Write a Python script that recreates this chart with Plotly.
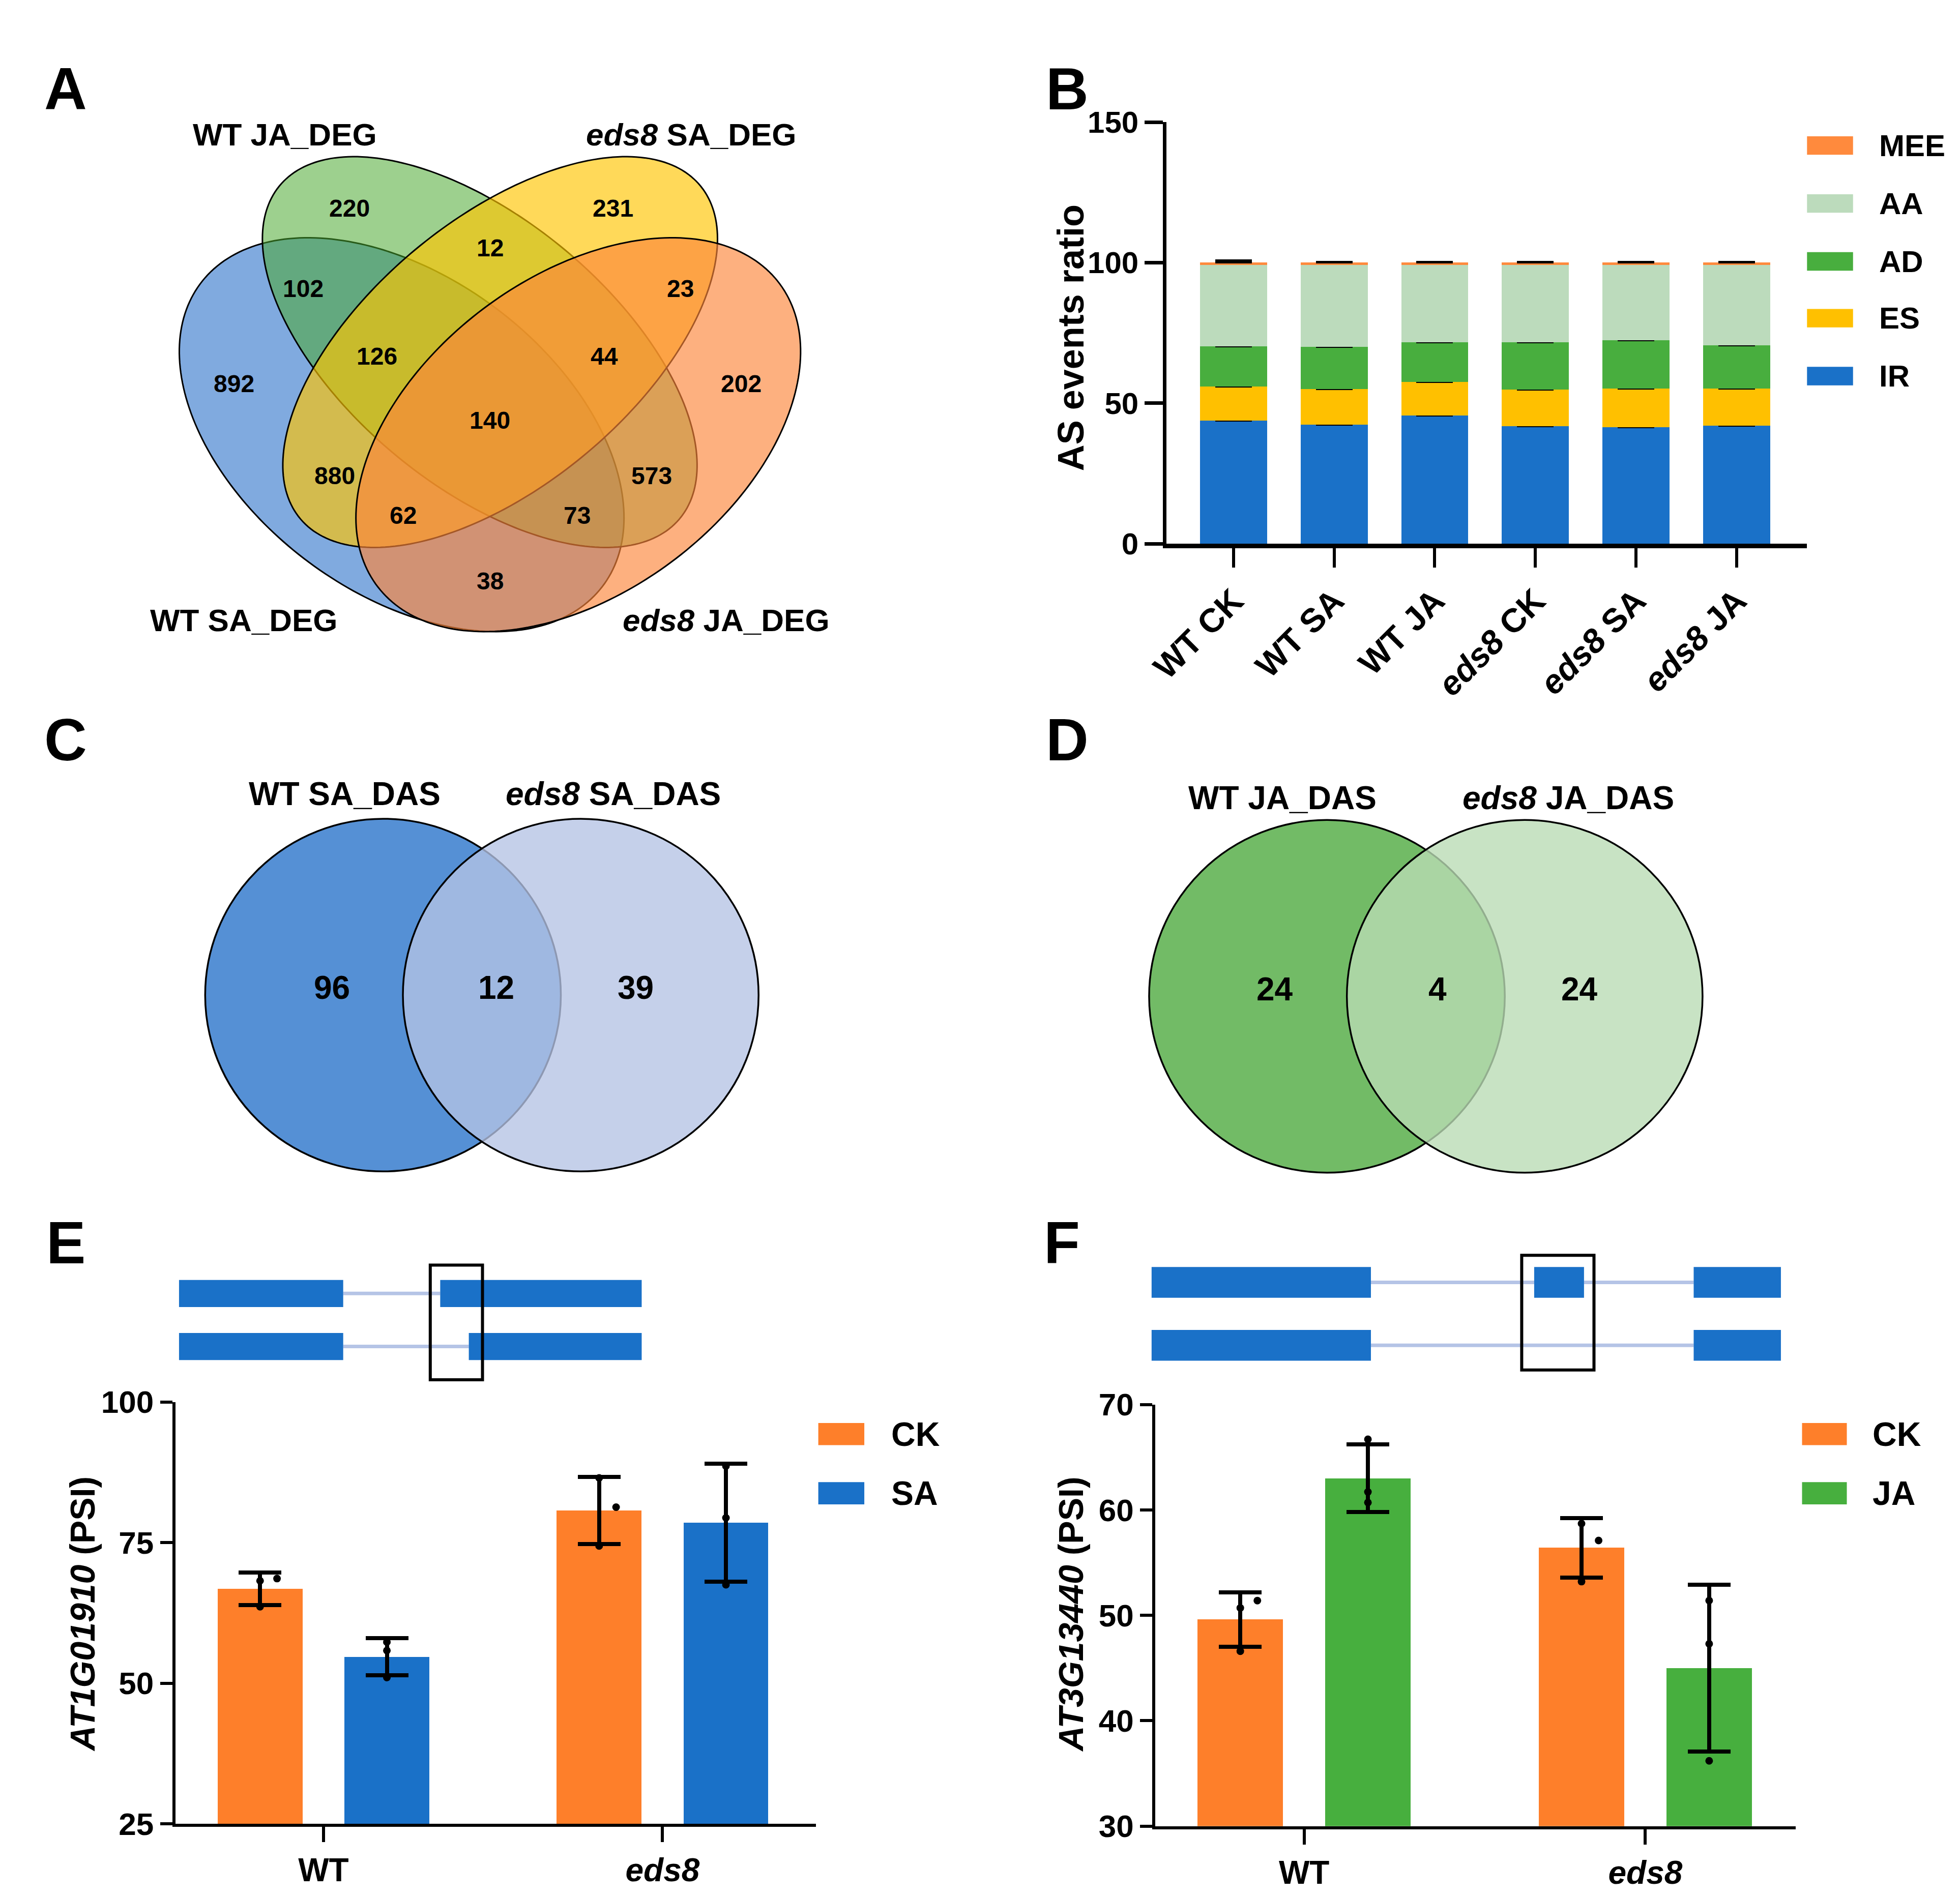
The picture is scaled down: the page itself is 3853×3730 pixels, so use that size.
import numpy as np
import plotly.graph_objects as go

# ======================= DATA =======================
# Panel A : four-set Venn diagram of DEGs
A_set_labels = ["WT JA_DEG", "<i>eds8</i> SA_DEG", "WT SA_DEG", "<i>eds8</i> JA_DEG"]
A_region_counts = [220, 231, 12, 102, 23, 126, 44, 892, 202, 140, 880, 573, 62, 73, 38]

# Panel B : AS event composition (%)
B_samples = ["WT CK", "WT SA", "WT JA", "<i>eds8</i> CK", "<i>eds8</i> SA", "<i>eds8</i> JA"]
B_types = ["IR", "ES", "AD", "AA", "MEE"]
B_IR = [43.9, 42.4, 45.6, 41.8, 41.4, 42.0]
B_ES = [12.1, 12.6, 12.0, 13.0, 13.8, 13.2]
B_AD = [14.3, 15.1, 14.1, 16.9, 17.2, 15.4]
B_AA = [28.9, 29.1, 27.5, 27.5, 26.8, 28.6]
B_MEE = [0.8, 0.8, 0.8, 0.8, 0.8, 0.8]
B_IR_err = [1.7, 0.5, 0.7, 1.6, 0.4, 1.1]
B_ES_err = [0.3, 0.3, 0.2, 0.8, 1.3, 0.3]
B_AD_err = [1.5, 0.6, 0.4, 1.0, 0.8, 0.8]
B_MEE_err = [0.8, 0.2, 0.2, 0.2, 0.2, 0.2]

# Panel C / D : two-set Venn diagrams of DAS genes
C_set_labels = ["WT SA_DAS", "<i>eds8</i> SA_DAS"]
C_counts = [96, 12, 39]
D_set_labels = ["WT JA_DAS", "<i>eds8</i> JA_DAS"]
D_counts = [24, 4, 24]

# Panel E : AT1G01910 PSI
E_groups = ["WT", "<i>eds8</i>"]
E_CK_mean = [66.8, 80.7]
E_CK_sd = [2.9, 6.0]
E_SA_mean = [54.7, 78.5]
E_SA_sd = [3.3, 10.5]
E_CK_points = [[68.2, 68.6, 63.6], [86.5, 81.3, 74.4]]
E_SA_points = [[55.8, 57.3, 51.0], [88.6, 79.4, 67.5]]

# Panel F : AT3G13440 PSI
F_groups = ["WT", "<i>eds8</i>"]
F_CK_mean = [49.6, 56.4]
F_CK_sd = [2.6, 2.8]
F_JA_mean = [63.0, 45.0]
F_JA_sd = [3.2, 7.9]
F_CK_points = [[50.7, 51.4, 46.6], [58.7, 57.1, 53.2]]
F_JA_points = [[66.7, 61.7, 60.7], [51.4, 47.3, 36.2]]

# Gene models (relative units) : exons per isoform, and highlighted event window
E_iso1 = [(0, 132), (210, 372)]
E_iso2 = [(0, 132), (233, 372)]
E_event = (202, 244)
F_iso1 = [(0, 176), (307, 347), (435, 505)]
F_iso2 = [(0, 176), (435, 505)]
F_event = (297, 355)

# ======================= STYLE / LAYOUT =======================
W, H = 3853, 3730
CW, CH = 1560.0, 1510.0          # canvas units (scaled pixels)
FONT = "Liberation Sans, Arial, Helvetica, sans-serif"
BLUE = "#1A71C8"
ORANGE = "#FE7F2A"
GREEN = "#47AF3E"
B_colors = {"IR": BLUE, "ES": "#FFC000", "AD": "#48AE3E", "AA": "#BCDBBC", "MEE": "#FF8A3D"}
B_vals = {"IR": B_IR, "ES": B_ES, "AD": B_AD, "AA": B_AA, "MEE": B_MEE}
B_errs = {"IR": B_IR_err, "ES": B_ES_err, "AD": B_AD_err, "AA": None, "MEE": B_MEE_err}


def px(x):
    return x / CW


def py(y):
    return 1 - y / CH


def bfont(size, italic=False):
    return dict(family=FONT, size=size, color="black", weight="bold",
                style="italic" if italic else "normal")


fig = go.Figure()

# ---------------- Panel B ----------------
bx = list(range(len(B_samples)))
for t in B_types:
    err = B_errs[t]
    if err is not None:
        ey = dict(type="data", array=err, arrayminus=[0] * len(err), symmetric=False,
                  color="black", thickness=4, width=36)
    else:
        ey = dict(visible=False)
    fig.add_trace(go.Bar(x=bx, y=B_vals[t], width=0.666, name=t,
                         marker=dict(color=B_colors[t], line=dict(width=0)),
                         error_y=ey, xaxis="x", yaxis="y", showlegend=False))

# ---------------- Panel E / F (grouped bars + points) ----------------
OFF = 0.187
BW = 0.25


def add_psi(xa, ya, groups, m1, s1, p1, c1, m2, s2, p2, c2, jit1, jit2):
    g = np.arange(len(groups))
    for (m, s, c, o) in [(m1, s1, c1, -OFF), (m2, s2, c2, OFF)]:
        fig.add_trace(go.Bar(x=g + o, y=m, width=BW, marker=dict(color=c, line=dict(width=0)),
                             error_y=dict(type="data", array=s, color="black", thickness=8, width=42),
                             xaxis=xa, yaxis=ya, showlegend=False))
    for (pts, o, jit) in [(p1, -OFF, jit1), (p2, OFF, jit2)]:
        xs, ys = [], []
        for gi, reps in enumerate(pts):
            for ri, v in enumerate(reps):
                xs.append(gi + o + jit[ri])
                ys.append(v)
        fig.add_trace(go.Scatter(x=xs, y=ys, mode="markers",
                                 marker=dict(color="black", size=15),
                                 xaxis=xa, yaxis=ya, showlegend=False, cliponaxis=False))


add_psi("x2", "y2", E_groups, E_CK_mean, E_CK_sd, E_CK_points, ORANGE,
        E_SA_mean, E_SA_sd, E_SA_points, BLUE, [0, 0.05, 0], [0, 0, 0])
add_psi("x3", "y3", F_groups, F_CK_mean, F_CK_sd, F_CK_points, ORANGE,
        F_JA_mean, F_JA_sd, F_JA_points, GREEN, [0, 0.05, 0], [0, 0, 0])

# canvas dummy trace
fig.add_trace(go.Scatter(x=[0], y=[0], mode="markers", marker=dict(opacity=0),
                         xaxis="x4", yaxis="y4", showlegend=False, hoverinfo="skip"))

shapes = []
ann = []


def text(x, y, s, size, xanchor="center", angle=0, italic=False):
    ann.append(dict(x=x, y=y, xref="x4", yref="y4", text=s, showarrow=False,
                    xanchor=xanchor, yanchor="middle", textangle=angle,
                    font=bfont(size, italic)))


# ---------------- Panel A : 4 ellipses ----------------
def ellipse_path(cx, cy, a, b, th, n=240):
    t = np.linspace(0, 2 * np.pi, n)
    c, s = np.cos(np.radians(th)), np.sin(np.radians(th))
    xs = cx + a * np.cos(t) * c - b * np.sin(t) * s
    ys = cy + a * np.cos(t) * s + b * np.sin(t) * c
    return "M " + " L ".join(f"{x:.2f},{y:.2f}" for x, y in zip(xs, ys)) + " Z"


ellipses = [
    (307.0, 338.5, 203, 127.5, 37.5, "rgba(1,85,191,0.5)"),      # WT SA
    (369.8, 271.5, 210, 107.5, 40.2, "rgba(74,168,46,0.54)"),    # WT JA
    (386.2, 271.5, 210, 107.5, 139.8, "rgba(255,197,0,0.65)"),   # eds8 SA
    (449.0, 338.5, 203, 127.5, 142.5, "rgba(252,134,58,0.65)"),  # eds8 JA
]
for (cx, cy, a, b, th, col) in ellipses:
    shapes.append(dict(type="path", path=ellipse_path(cx, cy, a, b, th), xref="x4", yref="y4",
                       fillcolor=col, line=dict(color="black", width=3), layer="above"))

A_label_pos = [(213, 95), (540, 95), (180, 489), (568, 489)]
for lab, (x, y) in zip(A_set_labels, A_label_pos):
    text(x, y, lab, 62)
A_num_pos = [(265, 155), (477, 155), (378, 187), (228, 220), (531, 220), (287, 275), (470, 275),
             (172, 297), (580, 297), (378, 327), (253, 372), (508, 372), (308, 404), (448, 404),
             (378, 457)]
for v, (x, y) in zip(A_region_counts, A_num_pos):
    text(x, y, str(v), 48)

# ---------------- Panel C / D : circles ----------------
R = 143
venn2 = [
    (C_set_labels, C_counts, (292, 793), (451, 793), "#5590D5", "rgba(181,195,228,0.78)",
     [(261, 630), (477, 630)], [(251, 787), (383, 787), (495, 787)]),
    (D_set_labels, D_counts, (1051, 794), (1210, 794), "#72BB66", "rgba(185,219,180,0.79)",
     [(1015, 633), (1245, 633)], [(1009, 788), (1140, 788), (1254, 788)]),
]
for labels, counts, c1, c2, f1, f2, lpos, npos in venn2:
    for (cx, cy), fc in [(c1, f1), (c2, f2)]:
        shapes.append(dict(type="circle", xref="x4", yref="y4", x0=cx - R, x1=cx + R,
                           y0=cy - R, y1=cy + R, fillcolor=fc,
                           line=dict(color="black", width=3.5), layer="above"))
    for lab, (x, y) in zip(labels, lpos):
        text(x, y, lab, 64)
    for v, (x, y) in zip(counts, npos):
        text(x, y, str(v), 64)

# ---------------- gene models ----------------
INTRON = "#B5C4E6"


def gene_model(isoforms, event, x0, x1, total, rows_y, exon_h, box_y):
    k = (x1 - x0) / total
    for exons, yc in zip(isoforms, rows_y):
        for (a, b), (c, d) in zip(exons[:-1], exons[1:]):
            shapes.append(dict(type="line", xref="x4", yref="y4", x0=x0 + b * k, x1=x0 + c * k,
                               y0=yc, y1=yc, line=dict(color=INTRON, width=7), layer="above"))
        for (a, b) in exons:
            shapes.append(dict(type="rect", xref="x4", yref="y4", x0=x0 + a * k, x1=x0 + b * k,
                               y0=yc - exon_h / 2, y1=yc + exon_h / 2, fillcolor=BLUE,
                               line=dict(width=0), layer="above"))
    shapes.append(dict(type="rect", xref="x4", yref="y4", x0=x0 + event[0] * k, x1=x0 + event[1] * k,
                       y0=box_y[0], y1=box_y[1], fillcolor="rgba(0,0,0,0)",
                       line=dict(color="black", width=6), layer="above"))


gene_model([E_iso1, E_iso2], E_event, 128, 500, 372, [1035, 1078], 22, (1012, 1105))
gene_model([F_iso1, F_iso2], F_event, 910, 1416, 505, [1026, 1077], 25, (1004, 1097))


# ---------------- manual legends ----------------
def legend(names, colors, xs0, xs1, ys, hgt, tx, size):
    for nm, col, y in zip(names, colors, ys):
        shapes.append(dict(type="rect", xref="x4", yref="y4", x0=xs0, x1=xs1, y0=y - hgt / 2,
                           y1=y + hgt / 2, fillcolor=col, line=dict(width=0), layer="above"))
        text(tx, y, nm, size, xanchor="left")


legend(B_types[::-1], [B_colors[t] for t in B_types[::-1]], 1437, 1474,
       [104, 151, 198, 244, 291], 15, 1494, 60)
legend(["CK", "SA"], [ORANGE, BLUE], 642, 679, [1149, 1197], 18, 700, 66)
legend(["CK", "JA"], [ORANGE, GREEN], 1433, 1469, [1149, 1197], 18, 1489, 66)

# ---------------- axis titles & panel letters ----------------
text(845, 260, "AS events ratio", 72, angle=-90)
text(50, 1295, "<i>AT1G01910</i> (PSI)", 68, angle=-90)
text(845, 1295, "<i>AT3G13440</i> (PSI)", 68, angle=-90)
for L, (x, y) in zip("ABCDEF", [(37, 58), (842, 58), (37, 586), (842, 586), (37, 994), (838, 994)]):
    text(x, y, L, 116)

# ---------------- axes ----------------
common = dict(showgrid=False, zeroline=False, showline=True, linecolor="black", ticks="outside",
              tickcolor="black")

fig.update_layout(
    width=W, height=H, margin=dict(l=0, r=0, t=0, b=0),
    paper_bgcolor="white", plot_bgcolor="rgba(0,0,0,0)",
    barmode="stack", showlegend=False,
    font=dict(family=FONT, color="black", weight="bold"),
    xaxis=dict(domain=[px(922), px(1437)], range=[-0.666, 5.7], tickvals=bx, ticktext=B_samples,
               tickangle=-45, linewidth=9, ticklen=38, tickwidth=6, tickfont=bfont(66),
               anchor="y", **common),
    yaxis=dict(domain=[py(427), py(85)], range=[0, 150], tickvals=[0, 50, 100, 150],
               linewidth=7, ticklen=36, tickwidth=7, tickfont=bfont(60), anchor="x", **common),
    xaxis2=dict(domain=[px(125), px(640)], range=[-0.437, 1.452], tickvals=[0, 1], ticktext=E_groups,
                linewidth=6, ticklen=30, tickwidth=6, tickfont=bfont(64), anchor="y2", **common),
    yaxis2=dict(domain=[py(1465), py(1123)], range=[25, 100], tickvals=[25, 50, 75, 100],
                linewidth=6, ticklen=24, tickwidth=6, tickfont=bfont(62), anchor="x2", **common),
    xaxis3=dict(domain=[px(913), px(1428)], range=[-0.436, 1.441], tickvals=[0, 1], ticktext=F_groups,
                linewidth=6, ticklen=30, tickwidth=6, tickfont=bfont(64), anchor="y3", **common),
    yaxis3=dict(domain=[py(1467), py(1125)], range=[30, 70], tickvals=[30, 40, 50, 60, 70],
                linewidth=6, ticklen=24, tickwidth=6, tickfont=bfont(62), anchor="x3", **common),
    xaxis4=dict(domain=[0, 1], range=[0, CW], visible=False, anchor="y4"),
    yaxis4=dict(domain=[0, 1], range=[CH, 0], visible=False, anchor="x4"),
    shapes=shapes, annotations=ann,
)

fig.write_html("out.html", config={"displayModeBar": False},
               post_script="document.body.style.margin='0px';")
